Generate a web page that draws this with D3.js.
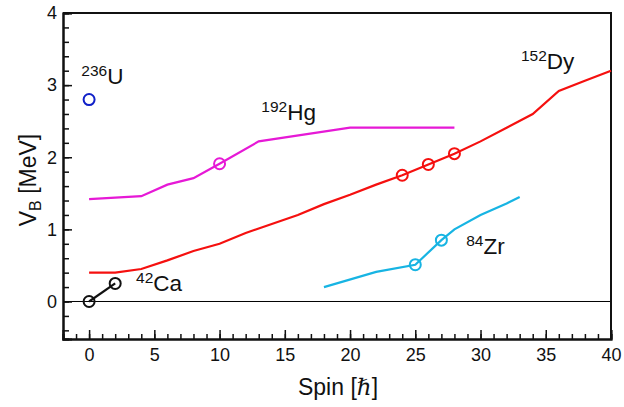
<!DOCTYPE html>
<html>
<head>
<meta charset="utf-8">
<script src="https://cdn.jsdelivr.net/npm/d3@7"></script>
<style>
  body { margin: 0; background: #fff; }
  text { font-family: "Liberation Sans", Arial, sans-serif; }
</style>
</head>
<body>
<div id="chart"></div>
<script>
const width = 624;
const height = 407;
const margin = {top: 13, right: 13, bottom: 68, left: 63};

// data: [spin, VB]
const dy152 = [[0, 0.4], [2, 0.4], [4, 0.45], [6, 0.57], [8, 0.7], [10, 0.8], [12, 0.95],
  [16, 1.2], [18, 1.35], [20, 1.48], [22, 1.62], [24, 1.75], [26, 1.9], [28, 2.05],
  [30, 2.22], [32, 2.41], [34, 2.6], [36, 2.92], [38, 3.06], [40, 3.2]];
const dy152Marks = [[24, 1.75], [26, 1.9], [28, 2.05]];

const hg192 = [[0, 1.42], [4, 1.46], [6, 1.62], [8, 1.71], [10, 1.91], [13, 2.22], [20, 2.41], [28, 2.41]];
const hg192Marks = [[10, 1.91]];

const zr84 = [[18, 0.2], [22, 0.41], [25, 0.51], [27, 0.85], [28, 1.0], [30, 1.2], [32, 1.36], [33, 1.45]];
const zr84Marks = [[25, 0.51], [27, 0.85]];

const ca42 = [[0, 0], [2, 0.25]];
const u236 = [[0, 2.8]];

const labels = [
  {mass: "236", el: "U", x: -0.6, y: 3.01},
  {mass: "192", el: "Hg", x: 13.2, y: 2.52},
  {mass: "152", el: "Dy", x: 33.1, y: 3.22},
  {mass: "84", el: "Zr", x: 28.9, y: 0.66},
  {mass: "42", el: "Ca", x: 3.6, y: 0.14}
];

let svg = d3.select("#chart").append("svg")
    .attr("width", width)
    .attr("height", height);

let x = d3.scaleLinear()
    .domain([-2, 40])
    .range([margin.left, width - margin.right]);

let y = d3.scaleLinear()
    .domain([-0.52, 4])
    .range([height - margin.bottom, margin.top]);

// zero line
svg.append("line")
    .attr("x1", x(-2)).attr("x2", x(40))
    .attr("y1", y(0)).attr("y2", y(0))
    .attr("stroke", "#000")
    .attr("stroke-width", 1);

// frame (top and right)
svg.append("path")
    .attr("d", `M${x(-2)},${y(4)}H${x(40)}V${y(-0.52)}`)
    .attr("fill", "none")
    .attr("stroke", "#111")
    .attr("stroke-width", 2);

// axes: minor then major, ticks pointing inward
let xMinor = svg.append("g")
    .attr("transform", `translate(0,${y(-0.52)})`)
    .call(d3.axisBottom(x).tickValues(d3.range(-2, 41, 1)).tickSize(-5).tickFormat(""));
let xMajor = svg.append("g")
    .attr("transform", `translate(0,${y(-0.52)})`)
    .call(d3.axisBottom(x).tickValues(d3.range(0, 41, 5)).tickSize(-9).tickPadding(9));

let yMinor = svg.append("g")
    .attr("transform", `translate(${x(-2)},0)`)
    .call(d3.axisLeft(y).tickValues(d3.range(-0.4, 4.01, 0.2)).tickSize(-6).tickFormat(""));
let yMajor = svg.append("g")
    .attr("transform", `translate(${x(-2)},0)`)
    .call(d3.axisLeft(y).tickValues([0, 1, 2, 3, 4]).tickSize(-9).tickPadding(6).tickFormat(d3.format("d")));

[xMinor, xMajor, yMinor, yMajor].forEach(g => {
  g.select(".domain").attr("stroke", "#111").attr("stroke-width", 2);
  g.selectAll(".tick line").attr("stroke", "#111").attr("stroke-width", 1.5);
  g.selectAll(".tick text").attr("fill", "#111").style("font-size", "18px");
});

let line = d3.line().x(d => x(d[0])).y(d => y(d[1]));

function series(data, marks, color) {
  svg.append("path")
      .datum(data)
      .attr("d", line)
      .attr("fill", "none")
      .attr("stroke", color)
      .attr("stroke-width", 2.2);
  svg.append("g").selectAll("circle")
      .data(marks)
      .enter()
      .append("circle")
      .attr("cx", d => x(d[0]))
      .attr("cy", d => y(d[1]))
      .attr("r", 5.5)
      .attr("fill", "none")
      .attr("stroke", color)
      .attr("stroke-width", 2);
}

series(hg192, hg192Marks, "#e619d6");
series(dy152, dy152Marks, "#f5100f");
series(zr84, zr84Marks, "#17b4e3");
series(ca42, ca42, "#111");
series([], u236, "#1020c8");

// nucleus labels
labels.forEach(l => {
  let t = svg.append("text")
      .attr("x", x(l.x))
      .attr("y", y(l.y))
      .attr("fill", "#111");
  t.append("tspan")
      .style("font-size", "15.5px")
      .attr("dy", -8)
      .text(l.mass);
  t.append("tspan")
      .style("font-size", "22.5px")
      .attr("dy", 8)
      .text(l.el);
});

// axis titles
let xt = svg.append("text")
    .attr("x", (x(-2) + x(40)) / 2 + 1)
    .attr("y", 395)
    .attr("text-anchor", "middle")
    .style("font-size", "23px")
    .attr("fill", "#111");
xt.append("tspan").text("Spin [");
xt.append("tspan").style("font-family", "'DejaVu Serif', serif").style("font-style", "italic").text("ℏ");
xt.append("tspan").text("]");

let yt = svg.append("text")
    .attr("transform", `translate(36, 180) rotate(-90)`)
    .attr("text-anchor", "middle")
    .style("font-size", "23px")
    .attr("fill", "#111");
yt.append("tspan").text("V");
yt.append("tspan").style("font-size", "16px").attr("dy", 5).text("B");
yt.append("tspan").attr("dy", -5).text(" [MeV]");
</script>
</body>
</html>
